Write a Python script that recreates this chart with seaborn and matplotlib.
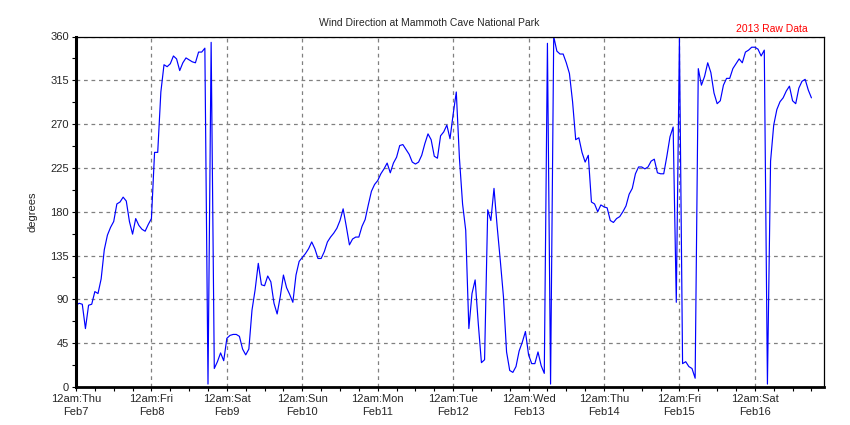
import matplotlib
matplotlib.use("Agg")
import matplotlib.pyplot as plt
import matplotlib.dates as mdates
from matplotlib.ticker import MultipleLocator
import seaborn as sns
import pandas as pd

# ---- data (hourly wind direction, degrees) ----
start_time = "2013-02-07 00:00"
direction = [
    # Feb 7
    84, 86, 85, 60, 84, 85, 98, 96, 111, 141, 156, 164, 170, 188, 190, 195, 191, 170, 157, 173, 166, 162, 160, 167,
    # Feb 8
    173, 241, 241, 303, 331, 329, 332, 340, 337, 325, 333, 338, 336, 334, 333, 344, 344, 348, 3, 354, 19, 26, 35, 27,
    # Feb 9
    50, 53, 54, 54, 52, 39, 33, 39, 79, 100, 127, 105, 104, 114, 108, 86, 75, 93, 115, 102, 95, 87, 115, 129,
    # Feb 10
    133, 137, 142, 149, 142, 132, 132, 139, 149, 154, 158, 163, 171, 183, 165, 146, 152, 154, 154, 165, 172, 187, 201, 208,
    # Feb 11
    212, 219, 224, 230, 220, 230, 236, 248, 249, 244, 239, 231, 229, 231, 238, 250, 260, 254, 237, 235, 258, 262, 269, 255,
    # Feb 12
    280, 303, 235, 188, 161, 60, 96, 110, 65, 25, 28, 182, 171, 204, 165, 130, 93, 36, 17, 15, 21, 37, 46, 57,
    # Feb 13
    33, 24, 24, 36, 22, 14, 353, 3, 360, 345, 342, 342, 333, 322, 293, 254, 256, 241, 231, 238, 190, 188, 180, 187,
    # Feb 14
    185, 184, 171, 169, 173, 175, 180, 186, 198, 204, 219, 226, 226, 224, 226, 232, 234, 220, 219, 219, 237, 257, 267, 87,
    # Feb 15
    358, 24, 26, 21, 19, 9, 327, 310, 319, 333, 323, 302, 291, 294, 310, 317, 317, 327, 332, 337, 333, 344, 346, 349,
    # Feb 16
    349, 347, 340, 346, 3, 232, 269, 285, 293, 297, 304, 309, 294, 291, 307, 314, 316, 305, 297,
]
day_labels = ["12am:Thu\nFeb7", "12am:Fri\nFeb8", "12am:Sat\nFeb9", "12am:Sun\nFeb10",
              "12am:Mon\nFeb11", "12am:Tue\nFeb12", "12am:Wed\nFeb13", "12am:Thu\nFeb14",
              "12am:Fri\nFeb15", "12am:Sat\nFeb16"]
y_ticks = [0, 45, 90, 135, 180, 225, 270, 315, 360]
title_text = "Wind Direction at Mammoth Cave National Park"
note_text = "2013 Raw Data"
y_label = "degrees"

sns.set_style("white")
plt.rcParams["font.family"] = ["Liberation Sans", "DejaVu Sans"]

times = pd.date_range(start_time, periods=len(direction), freq="h")
df = pd.DataFrame({"time": times, "deg": direction})

W, H = 850, 425
fig = plt.figure(figsize=(8.5, 4.25), dpi=100)
L, R, T, B = 76, 824, 36.5, 387
ax = fig.add_axes([L / W, 1 - B / H, (R - L) / W, (B - T) / H])

sns.lineplot(data=df, x="time", y="deg", color="#0000ff", linewidth=0.85, ax=ax)

t0 = pd.Timestamp(start_time)
ax.set_xlim(t0, t0 + pd.Timedelta(hours=238))
ax.set_ylim(0, 360)

ax.set_xticks(pd.date_range(start_time, periods=len(day_labels), freq="D"))
ax.set_xticklabels(day_labels, fontsize=8, linespacing=1.35)
ax.xaxis.set_minor_locator(mdates.HourLocator(byhour=[6, 12, 18]))
ax.set_yticks(y_ticks)
ax.set_yticklabels([str(v) for v in y_ticks], fontsize=8)
ax.yaxis.set_minor_locator(MultipleLocator(22.5))

ax.set_xlabel("")
ax.set_ylabel(y_label, fontsize=8)
ax.yaxis.set_label_coords((38 - L) / (R - L), 0.5)

ax.grid(True, which="major", color="#808080", linestyle=(0, (3, 3)), linewidth=0.9)
ax.tick_params(axis="both", which="both", direction="out", length=3, width=0.8,
               color="black", pad=2, bottom=True, left=True)
for side in ["top", "right"]:
    ax.spines[side].set_linewidth(0.9)
    ax.spines[side].set_color("black")
ax.spines["left"].set_linewidth(2.2)
ax.spines["bottom"].set_linewidth(2.0)
ax.spines["left"].set_color("black")
ax.spines["bottom"].set_color("black")

fig.text(429 / W, 1 - 23 / H, title_text, ha="center", va="center", fontsize=7.5)
fig.text(772 / W, 1 - 28.5 / H, note_text, ha="center", va="center", fontsize=7.5, color="#ff0000")

fig.savefig("out.png", dpi=100)
